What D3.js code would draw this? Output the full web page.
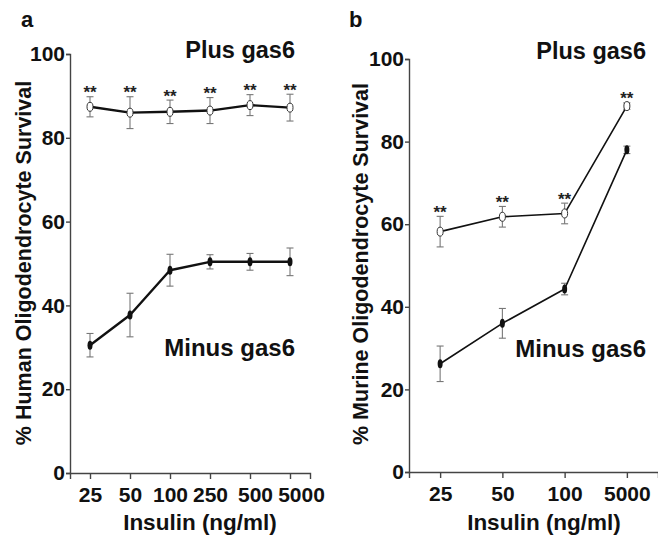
<!DOCTYPE html>
<html>
<head>
<meta charset="utf-8">
<script src="https://cdn.jsdelivr.net/npm/d3@7"></script>
<style>
	body { margin: 0; background: #fff; }
	svg { display: block; }
</style>
</head>
<body>
<div class="chart"></div>
<script>
// Panel a: human oligodendrocytes
var dosesA = ['25', '50', '100', '250', '500', '5000'],
	plusA = [87.4, 86.0, 86.2, 86.5, 87.8, 87.2],
	plusErrA = [2.4, 3.8, 2.8, 3.1, 2.5, 3.2],
	minusA = [30.5, 37.7, 48.4, 50.4, 50.4, 50.4],
	minusErrA = [2.8, 5.2, 3.8, 1.7, 2.0, 3.3];
// Panel b: murine oligodendrocytes
var dosesB = ['25', '50', '100', '5000'],
	plusB = [58.2, 61.8, 62.6, 88.6],
	plusErrB = [3.7, 2.5, 2.5, 0.8],
	minusB = [26.2, 36.0, 44.3, 78.0],
	minusErrB = [4.3, 3.6, 1.4, 0.9];
var yTicks = [0, 20, 40, 60, 80, 100];

var font = '"Liberation Sans", Arial, sans-serif',
	axisColor = '#444',
	errColor = '#777';

var svg = d3.select('.chart').append('svg')
	.attr('width', 658)
	.attr('height', 538)
	.attr('font-family', font)
	.attr('font-weight', 'bold');

function drawPanel(p) {
	var x = d3.scalePoint().domain(p.doses).range([p.left, p.right]).padding(0.5);
	var y = d3.scaleLinear().domain([0, 100]).range([p.bottom, p.top]);
	var g = svg.append('g');

	// axes
	var xAxis = g.append('g')
		.attr('transform', 'translate(0,' + p.bottom + ')')
		.call(d3.axisBottom(x).tickSizeOuter(0).tickSize(6).tickPadding(8));
	xAxis.selectAll('text')
		.attr('font-size', '21px')
		.attr('fill', '#111')
		.attr('font-family', font)
		.attr('dx', function(d) { return p.shift[d] || 0; });
	var yAxis = g.append('g')
		.attr('transform', 'translate(' + p.left + ',0)')
		.call(d3.axisLeft(y).tickValues(yTicks).tickSizeOuter(0).tickSize(4).tickPadding(1));
	yAxis.selectAll('text')
		.attr('font-size', '21px')
		.attr('fill', '#111')
		.attr('font-family', font);
	g.selectAll('.domain, .tick line')
		.attr('stroke', axisColor)
		.attr('stroke-width', 1.4);

	// axis titles and labels
	g.append('text')
		.attr('transform', 'translate(' + p.yTitleX + ',' + p.yTitleY + ') rotate(-90)')
		.attr('text-anchor', 'middle')
		.attr('font-size', '21.5px')
		.attr('fill', '#111')
		.text(p.yTitle);
	g.append('text')
		.attr('x', p.xTitleX)
		.attr('y', 530)
		.attr('text-anchor', 'middle')
		.attr('font-size', '22.5px')
		.attr('fill', '#111')
		.text('Insulin (ng/ml)');
	g.append('text')
		.attr('x', p.letterX)
		.attr('y', 27)
		.attr('font-size', '22px')
		.attr('fill', '#111')
		.text(p.letter);
	g.append('text')
		.attr('x', p.labelX)
		.attr('y', p.plusLabelY)
		.attr('text-anchor', 'end')
		.attr('font-size', '23.5px')
		.attr('fill', '#111')
		.text('Plus gas6');
	g.append('text')
		.attr('x', p.labelX)
		.attr('y', p.minusLabelY)
		.attr('text-anchor', 'end')
		.attr('font-size', '24px')
		.attr('fill', '#111')
		.text('Minus gas6');

	var series = [
		{vals: p.plus, errs: p.plusErr, open: true},
		{vals: p.minus, errs: p.minusErr, open: false}
	];
	series.forEach(function(s) {
		var pts = p.doses.map(function(d, i) {
			return {dose: d, v: s.vals[i], e: s.errs[i]};
		});
		// error bars
		var eb = g.append('g').attr('stroke', errColor).attr('stroke-width', 1.1);
		pts.forEach(function(d) {
			var cx = x(d.dose);
			eb.append('line')
				.attr('x1', cx).attr('x2', cx)
				.attr('y1', y(d.v - d.e)).attr('y2', y(d.v + d.e));
			[d.v - d.e, d.v + d.e].forEach(function(v) {
				eb.append('line')
					.attr('x1', cx - 3.5).attr('x2', cx + 3.5)
					.attr('y1', y(v)).attr('y2', y(v));
			});
		});
		g.append('path')
			.datum(pts)
			.attr('fill', 'none')
			.attr('stroke', '#111')
			.attr('stroke-width', p.lineWidth)
			.attr('stroke-linejoin', 'round')
			.attr('d', d3.line()
				.x(function(d) { return x(d.dose); })
				.y(function(d) { return y(d.v); }));
		g.selectAll(null)
			.data(pts)
			.enter().append('ellipse')
			.attr('cx', function(d) { return x(d.dose); })
			.attr('cy', function(d) { return y(d.v); })
			.attr('rx', s.open ? 3 : 2.5)
			.attr('ry', 4.5)
			.attr('fill', s.open ? '#fff' : '#111')
			.attr('stroke', s.open ? '#333' : 'none')
			.attr('stroke-width', 1);
		if (s.open) {
			// significance stars
			g.selectAll(null)
				.data(pts)
				.enter().append('text')
				.attr('x', function(d) { return x(d.dose); })
				.attr('y', function(d) { return y(d.v + d.e) + 1.5; })
				.attr('text-anchor', 'middle')
				.attr('font-size', '17px')
				.attr('fill', '#222')
				.text('**');
		}
	});
}

drawPanel({
	doses: dosesA, plus: plusA, plusErr: plusErrA, minus: minusA, minusErr: minusErrA,
	left: 70, right: 310, top: 54, bottom: 473,
	shift: {'500': 5, '5000': 11},
	yTitle: '% Human Oligodendrocyte Survival', yTitleX: 31, yTitleY: 263,
	xTitleX: 200, letter: 'a', letterX: 21,
	labelX: 295, plusLabelY: 58, minusLabelY: 356,
	lineWidth: 2.4
});
drawPanel({
	doses: dosesB, plus: plusB, plusErr: plusErrB, minus: minusB, minusErr: minusErrB,
	left: 409, right: 658, top: 59, bottom: 472,
	shift: {},
	yTitle: '% Murine Oligodendrocyte Survival', yTitleX: 368, yTitleY: 264,
	xTitleX: 544, letter: 'b', letterX: 349,
	labelX: 646, plusLabelY: 59, minusLabelY: 357,
	lineWidth: 1.6
});
</script>
</body>
</html>
